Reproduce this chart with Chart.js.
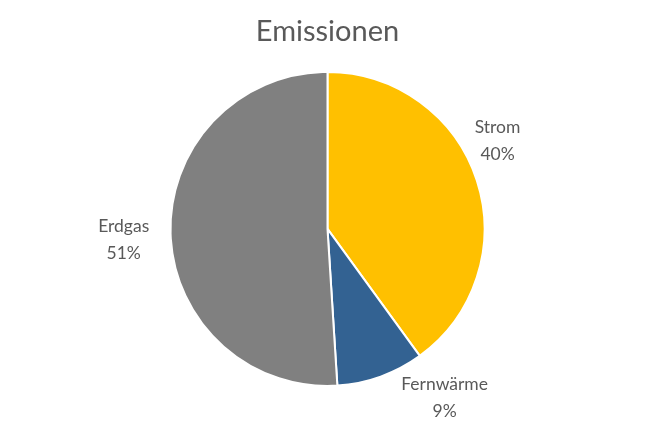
<!DOCTYPE html>
<html>
<head>
<meta charset="utf-8">
<script src="https://cdn.jsdelivr.net/npm/chart.js@4/dist/chart.umd.min.js"></script>
<style>
html,body{margin:0;padding:0;background:#fff;}
#wrap{width:655px;height:432px;}
</style>
</head>
<body>
<div id="wrap"><canvas id="c" width="655" height="432"></canvas></div>
<script>
const chartTitle = "Emissionen";
const categories = ["Strom", "Fernwärme", "Erdgas"];
const shares = [40, 9, 51];
const sliceColors = ["#FFC000", "#336292", "#808080"];

// label placement (polar, relative to pie centre): angle in degrees, distance as fraction of radius
const labelPlacement = [
  {angle: -27.4, dist: 1.22},
  {angle: 55.3, dist: 1.31},
  {angle: 177.0, dist: 1.30}
];

const outsideLabels = {
  id: 'outsideLabels',
  afterDatasetsDraw(chart) {
    const ctx = chart.ctx;
    const meta = chart.getDatasetMeta(0);
    ctx.save();
    ctx.font = '17.5px Lato, "Open Sans", sans-serif';
    ctx.fillStyle = '#595959';
    ctx.textAlign = 'center';
    ctx.textBaseline = 'middle';
    const total = shares.reduce((s, v) => s + v, 0);
    meta.data.forEach((arc, i) => {
      const p = labelPlacement[i];
      const a = p.angle * Math.PI / 180;
      const r = arc.outerRadius * p.dist;
      const x = arc.x + Math.cos(a) * r;
      const y = arc.y + Math.sin(a) * r;
      const pct = Math.round(shares[i] / total * 100) + '%';
      ctx.fillText(categories[i], x, y - 13.5);
      ctx.fillText(pct, x, y + 13.5);
    });
    ctx.restore();
  }
};

new Chart(document.getElementById('c'), {
  type: 'pie',
  data: {
    labels: categories,
    datasets: [{
      data: shares,
      backgroundColor: sliceColors,
      borderColor: '#ffffff',
      borderWidth: 2,
      radius: 157
    }]
  },
  options: {
    responsive: false,
    animation: false,
    layout: {padding: {top: 0, bottom: 33, left: 0, right: 0}},
    plugins: {
      legend: {display: false},
      tooltip: {enabled: false},
      title: {
        display: true,
        text: chartTitle,
        color: '#595959',
        font: {family: 'Lato, "Open Sans", sans-serif', size: 29, weight: 'normal'},
        padding: {top: 14, bottom: 10}
      }
    }
  },
  plugins: [outsideLabels]
});
</script>
</body>
</html>
